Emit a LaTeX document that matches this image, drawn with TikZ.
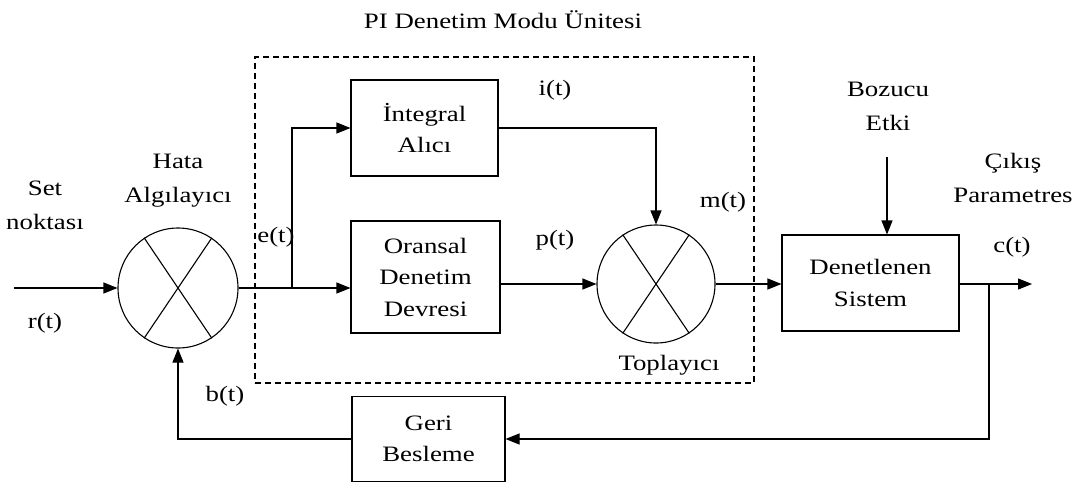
\documentclass[tikz,border=0pt]{standalone}
\usepackage{fontspec}
\setmainfont{Liberation Serif}[FakeStretch=1.22]
\usetikzlibrary{arrows.meta,positioning}

\begin{document}
\begin{tikzpicture}[
  x=1pt,y=-1pt,
  blok/.style={draw,line width=1.1pt,align=center,inner sep=0pt,
    font=\fontsize{22}{31.5}\selectfont},
  toplam/.style={draw,circle,line width=1.1pt,inner sep=0pt,minimum size=120pt},
  etiket/.style={align=center,inner sep=0pt,
    font=\fontsize{22}{34}\selectfont},
  ok/.style={-{Triangle[length=14pt,width=11pt]},line width=1.1pt},
  hat/.style={line width=1.1pt},
  kesik/.style={draw,line width=1.1pt,dash pattern=on 6pt off 4pt}
]
\useasboundingbox (0,0) rectangle (1083,483);

% PI birimi
\node[etiket] (baslik) at (503,20) {PI Denetim Modu Ünitesi};
\node[kesik,minimum width=499pt,minimum height=326pt] (pi) at (504.5,220) {};

% bloklar
\node[toplam] (hata) at (178,288) {};
\node[blok,minimum width=147pt,minimum height=96pt] (integral) at (424.5,128) {İntegral\\Alıcı};
\node[blok,minimum width=149pt,minimum height=112pt] (oransal) at (425.5,277) {Oransal\\Denetim\\Devresi};
\node[toplam,minimum size=118pt] (topla) at (656,284) {};
\node[blok,minimum width=177pt,minimum height=96pt] (sistem) at (870.5,283) {Denetlenen\\Sistem};
\node[blok,minimum width=153pt,minimum height=85pt] (geri) at (428.5,439) {Geri\\Besleme};

\draw[hat] (hata.124) -- (hata.-56) (hata.56) -- (hata.-124);
\draw[hat] (topla.124) -- (topla.-56) (topla.56) -- (topla.-124);

% serbest uclar
\coordinate (giris) at (14,288);
\coordinate (dal) at (292,288);
\coordinate (bozucu) at (887,157);
\coordinate (cikis) at (1032,284);
\coordinate (donus) at (989,284);

% baglantilar
\draw[ok] (giris) -- (hata.west);
\draw[ok] (hata.east) -- (oransal.west |- hata.east);
\draw[ok] (dal) |- (integral.west);
\draw[ok] (integral.east) -| (topla.north);
\draw[ok] (oransal.east |- topla.west) -- (topla.west);
\draw[ok] (topla.east) -- (sistem.west |- topla.east);
\draw[ok] (bozucu) -- (bozucu |- sistem.north);
\draw[ok] (sistem.east |- cikis) -- (cikis);
\draw[ok] (donus) |- (geri.east);
\draw[ok] (geri.west) -| (hata.south);

% etiketler
\node[etiket] (set) at (45,205) {Set\\noktası};
\node[etiket] (rt) at (45,323) {r(t)};
\node[etiket] (hataad) at (178,181) {Hata\\Algılayıcı};
\node[etiket] (et) at (276,237) {e(t)};
\node[etiket] (bt) at (225,396) {b(t)};
\node[etiket] (it) at (555,90) {i(t)};
\node[etiket] (pt) at (555,240) {p(t)};
\node[etiket] (mt) at (723,202) {m(t)};
\node[etiket] (toplayici) at (669,365) {Toplayıcı};
\node[etiket] (bozucuad) at (888,106) {Bozucu\\Etki};
\node[etiket] (cikisad) at (1013,178) {Çıkış\\Parametres};
\node[etiket] (ct) at (1012,247) {c(t)};
\end{tikzpicture}
\end{document}
